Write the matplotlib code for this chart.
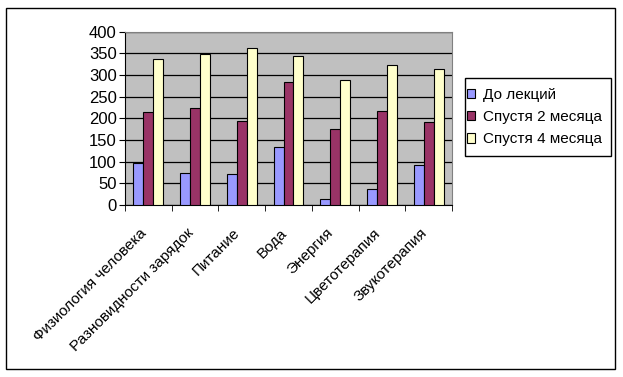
import numpy as np
import matplotlib.pyplot as plt
import matplotlib.transforms as mtransforms
from matplotlib.patches import Rectangle

plt.rcParams['font.family'] = ['Liberation Sans', 'DejaVu Sans']

categories = ['Физиология человека', 'Разновидности зарядок', 'Питание', 'Вода',
              'Энергия', 'Цветотерапия', 'Звукотерапия']
before = [96, 75, 71, 135, 13, 36, 92]
after_2m = [215, 225, 195, 285, 175, 216, 191]
after_4m = [336, 348, 362, 345, 288, 322, 313]
series_names = ['До лекций', 'Спустя 2 месяца', 'Спустя 4 месяца']
colors = ['#9999FF', '#993366', '#FFFFCC']

W, H = 623, 377
fig = plt.figure(figsize=(W / 100, H / 100), dpi=100)

# outer chart border
fig.patches.append(Rectangle((6 / W, 8 / H), 609 / W, 361 / H, transform=fig.transFigure,
                             fill=False, edgecolor='black', lw=1))

ax = fig.add_axes([125 / W, 1 - 205 / H, 327 / W, 173.3 / H])
ax.set_facecolor('#C0C0C0')

x = np.arange(len(categories))
bw = 0.214
for i, (vals, name) in enumerate(zip([before, after_2m, after_4m], series_names)):
    ax.bar(x + (i - 1) * bw, vals, bw, color=colors[i], edgecolor='black', lw=0.8,
           label=name, zorder=3)

ax.set_xlim(-0.5, len(categories) - 0.5)
ax.set_ylim(0, 400)
ax.set_yticks(range(0, 401, 50))
ax.yaxis.grid(True, color='black', lw=0.9, zorder=0)
ax.set_axisbelow(True)
ax.tick_params(axis='y', labelsize=12, length=4, direction='out', pad=2)

ax.set_xticks(x)
ax.set_xticklabels(categories, rotation=45, ha='right', rotation_mode='anchor', fontsize=11)
ax.tick_params(axis='x', length=0, pad=15)
shift = mtransforms.ScaledTranslation(-9 / 100, 0, fig.dpi_scale_trans)
for lab in ax.get_xticklabels():
    lab.set_transform(lab.get_transform() + shift)
ax.set_xticks(np.arange(-0.5, len(categories)), minor=True)
ax.tick_params(axis='x', which='minor', length=4, direction='out')

for side in ['top', 'right']:
    ax.spines[side].set_color('#808080')
for side in ['left', 'bottom']:
    ax.spines[side].set_color('black')

# legend box drawn separately so its frame can be placed exactly
fig.patches.append(Rectangle((465 / W, 1 - 156 / H), 146 / W, 78 / H, transform=fig.transFigure,
                             fill=False, edgecolor='black', lw=1))
leg = fig.legend(loc='center left', bbox_to_anchor=(465 / W, 1 - 117 / H), fontsize=11,
                 frameon=False, handlelength=0.55, handleheight=0.55, handletextpad=0.55,
                 labelspacing=0.55, borderpad=0.1, borderaxespad=0)

fig.savefig('out.png', dpi=100)
